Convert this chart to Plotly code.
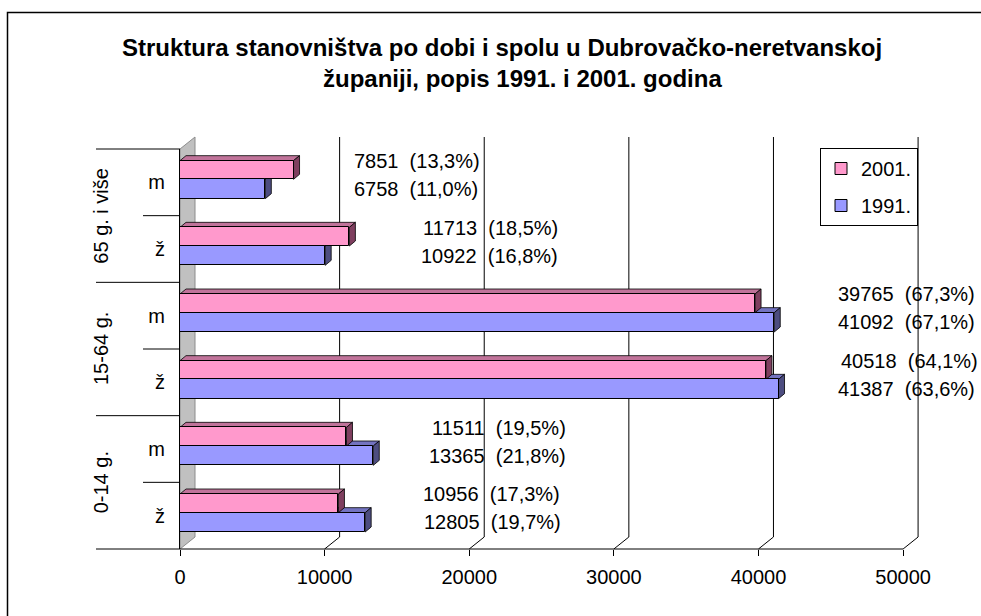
import plotly.graph_objects as go

# ---------------- data ----------------
rows = ["ž", "m", "ž", "m", "ž", "m"]                 # bottom -> top
groups = ["0-14 g.", "15-64 g.", "65 g. i više"]       # each covers two rows
v2001 = [10956, 11511, 40518, 39765, 11713, 7851]
v1991 = [12805, 13365, 41387, 41092, 10040, 5900]
lab2001 = ["10956  (17,3%)", "11511  (19,5%)", "40518  (64,1%)",
           "39765  (67,3%)", "11713  (18,5%)", "7851  (13,3%)"]
lab1991 = ["12805  (19,7%)", "13365  (21,8%)", "41387  (63,6%)",
           "41092  (67,1%)", "10922  (16,8%)", "6758  (11,0%)"]
xticks = [0, 10000, 20000, 30000, 40000, 50000]
title1 = "Struktura stanovništva po dobi i spolu u Dubrovačko-neretvanskoj"
title2 = "županiji, popis 1991. i 2001. godina"

# ---------------- layout constants ----------------
W, H = 981, 616
PLOT_L, PLOT_R, PLOT_T, PLOT_B = 180, 932, 149, 549   # page pixels
ML, MR = PLOT_L, W - PLOT_R
MT, MB = PLOT_T, H - PLOT_B
XMAX = 52000
PW, PH = W - ML - MR, H - MT - MB
PXX = PW / XMAX            # px per data unit (x)
PXY = PH / 6.0             # px per category (y)
FONT = "Liberation Sans, Arial, sans-serif"
PINK, PINK_TOP, PINK_SIDE = "#ff99cc", "#c0739a", "#7f3f5f"
BLUE, BLUE_TOP, BLUE_SIDE = "#9999ff", "#7373c0", "#4d4d80"
P_OFF, P_W = 0.045, 0.28
B_OFF, B_W = -0.245, 0.29
DX, DY = 6 / PXX, 5 / PXY          # bar depth
WDX, WDY = 15 / PXX, 12 / PH       # wall depth (x data, y paper)
lab_right_px = {  # right edge of the text boxes (page px)
    5: (482, 480), 4: (560, 560), 3: (977, 977),
    2: (980, 977), 1: (568, 568), 0: (562, 563)}

def px2paper_x(px):
    return (px - PLOT_L) / PW

def px2paper_y(py):
    return (PLOT_B - py) / PH

ypos = list(range(len(rows)))

fig = go.Figure()
fig.add_trace(go.Bar(y=ypos, x=v2001, orientation="h", name="2001.",
                     offset=P_OFF, width=P_W, legendgroup="a",
                     marker=dict(color=PINK, line=dict(color="black", width=1))))
fig.add_trace(go.Bar(y=ypos, x=v1991, orientation="h", name="1991.",
                     offset=B_OFF, width=B_W, legendgroup="b",
                     marker=dict(color=BLUE, line=dict(color="black", width=1))))

shapes = []
# back wall
shapes.append(dict(type="path", xref="x", yref="paper", layer="below",
                   path=f"M 0,0 L {WDX},{WDY} L {WDX},{1+WDY} L 0,1 Z",
                   fillcolor="#c0c0c0", line=dict(color="#8c8c8c", width=1)))
# grid lines on back wall with diagonal foot
for t in xticks[1:]:
    shapes.append(dict(type="path", xref="x", yref="paper", layer="below",
                       path=f"M {t},0 L {t+WDX},{WDY} L {t+WDX},{1+WDY}",
                       line=dict(color="black", width=1)))
# x axis line
shapes.append(dict(type="line", xref="x", yref="paper", x0=0, x1=xticks[-1],
                   y0=0, y1=0, line=dict(color="black", width=1)))
# category separators on the left
for b in [-0.5, 1.5, 3.5, 5.5]:
    yy = (b + 0.5) / 6
    shapes.append(dict(type="line", xref="paper", yref="paper",
                       x0=px2paper_x(96), x1=0, y0=yy, y1=yy,
                       line=dict(color="black", width=1)))
for b in [0.5, 2.5, 4.5]:
    yy = (b + 0.5) / 6
    shapes.append(dict(type="line", xref="paper", yref="paper",
                       x0=px2paper_x(143), x1=0, y0=yy, y1=yy,
                       line=dict(color="black", width=1)))

# 3D faces of the bars
def faces(vals, off, wid, top_c, side_c):
    out = []
    for i, v in enumerate(vals):
        y0, y1 = i + off, i + off + wid
        out.append(dict(type="path", xref="x", yref="y", layer="between",
                        path=f"M 0,{y1} L {v},{y1} L {v+DX},{y1+DY} L {DX},{y1+DY} Z",
                        fillcolor=top_c, line=dict(color="black", width=0.8)))
        out.append(dict(type="path", xref="x", yref="y", layer="between",
                        path=f"M {v},{y0} L {v},{y1} L {v+DX},{y1+DY} L {v+DX},{y0+DY} Z",
                        fillcolor=side_c, line=dict(color="black", width=0.8)))
    return out

shapes += faces(v1991, B_OFF, B_W, BLUE_TOP, BLUE_SIDE)
shapes += faces(v2001, P_OFF, P_W, PINK_TOP, PINK_SIDE)

# outer chart border (left + top visible)
shapes.append(dict(type="rect", xref="paper", yref="paper",
                   x0=px2paper_x(7.5), x1=px2paper_x(1000),
                   y0=px2paper_y(660), y1=px2paper_y(12.5),
                   line=dict(color="black", width=1.5), layer="above"))

annotations = []
# title
annotations.append(dict(text=f"<b>{title1}</b>", xref="paper", yref="paper",
                        x=px2paper_x(502), y=px2paper_y(47), showarrow=False,
                        xanchor="center", yanchor="middle",
                        font=dict(family=FONT, size=24, color="black")))
annotations.append(dict(text=f"<b>{title2}</b>", xref="paper", yref="paper",
                        x=px2paper_x(522), y=px2paper_y(79), showarrow=False,
                        xanchor="center", yanchor="middle",
                        font=dict(family=FONT, size=24, color="black")))
# group labels
for gi, g in enumerate(groups):
    annotations.append(dict(text=g, xref="paper", yref="y", x=px2paper_x(101),
                            y=2 * gi + 0.5, showarrow=False, textangle=-90,
                            xanchor="center", yanchor="middle",
                            font=dict(family=FONT, size=20, color="black")))
# value labels
for i in ypos:
    rp, rb = lab_right_px[i]
    annotations.append(dict(text=lab2001[i].replace(" ", "\u00a0"), xref="paper", yref="y",
                            x=px2paper_x(rp), y=i + P_OFF + P_W / 2, yshift=9,
                            showarrow=False, xanchor="right", yanchor="middle",
                            font=dict(family=FONT, size=20, color="black")))
    annotations.append(dict(text=lab1991[i].replace(" ", "\u00a0"), xref="paper", yref="y",
                            x=px2paper_x(rb), y=i + B_OFF + B_W / 2, yshift=0,
                            showarrow=False, xanchor="right", yanchor="middle",
                            font=dict(family=FONT, size=20, color="black")))

fig.update_layout(
    width=W, height=H, autosize=False,
    margin=dict(l=ML, r=MR, t=MT, b=MB, pad=0),
    paper_bgcolor="white", plot_bgcolor="white",
    font=dict(family=FONT, size=20, color="black"),
    showlegend=True,
    legend=dict(x=px2paper_x(820), y=px2paper_y(148), xanchor="left", yanchor="top",
                bordercolor="black", borderwidth=1, bgcolor="white",
                traceorder="grouped", tracegroupgap=8, itemwidth=30,
                font=dict(family=FONT, size=20, color="black")),
    xaxis=dict(range=[0, XMAX], tickvals=xticks, ticktext=[str(t) for t in xticks],
               showgrid=False, zeroline=False, showline=False,
               ticks="outside", ticklen=6, tickcolor="black", ticklabelstandoff=4,
               tickfont=dict(family=FONT, size=20, color="black"), fixedrange=True),
    yaxis=dict(range=[-0.5, 5.5], tickvals=ypos, ticktext=rows,
               showgrid=False, zeroline=False, showline=True, linecolor="black",
               linewidth=1, ticks="", ticklabelstandoff=10,
               tickfont=dict(family=FONT, size=20, color="black"), fixedrange=True),
    shapes=shapes, annotations=annotations, bargap=0,
)

fig.write_html(
    "out.html",
    config={"displayModeBar": False},
    post_script=("document.body.style.margin='0';"
                 "document.body.style.overflow='hidden';"
                 "document.documentElement.style.overflow='hidden';"),
)
